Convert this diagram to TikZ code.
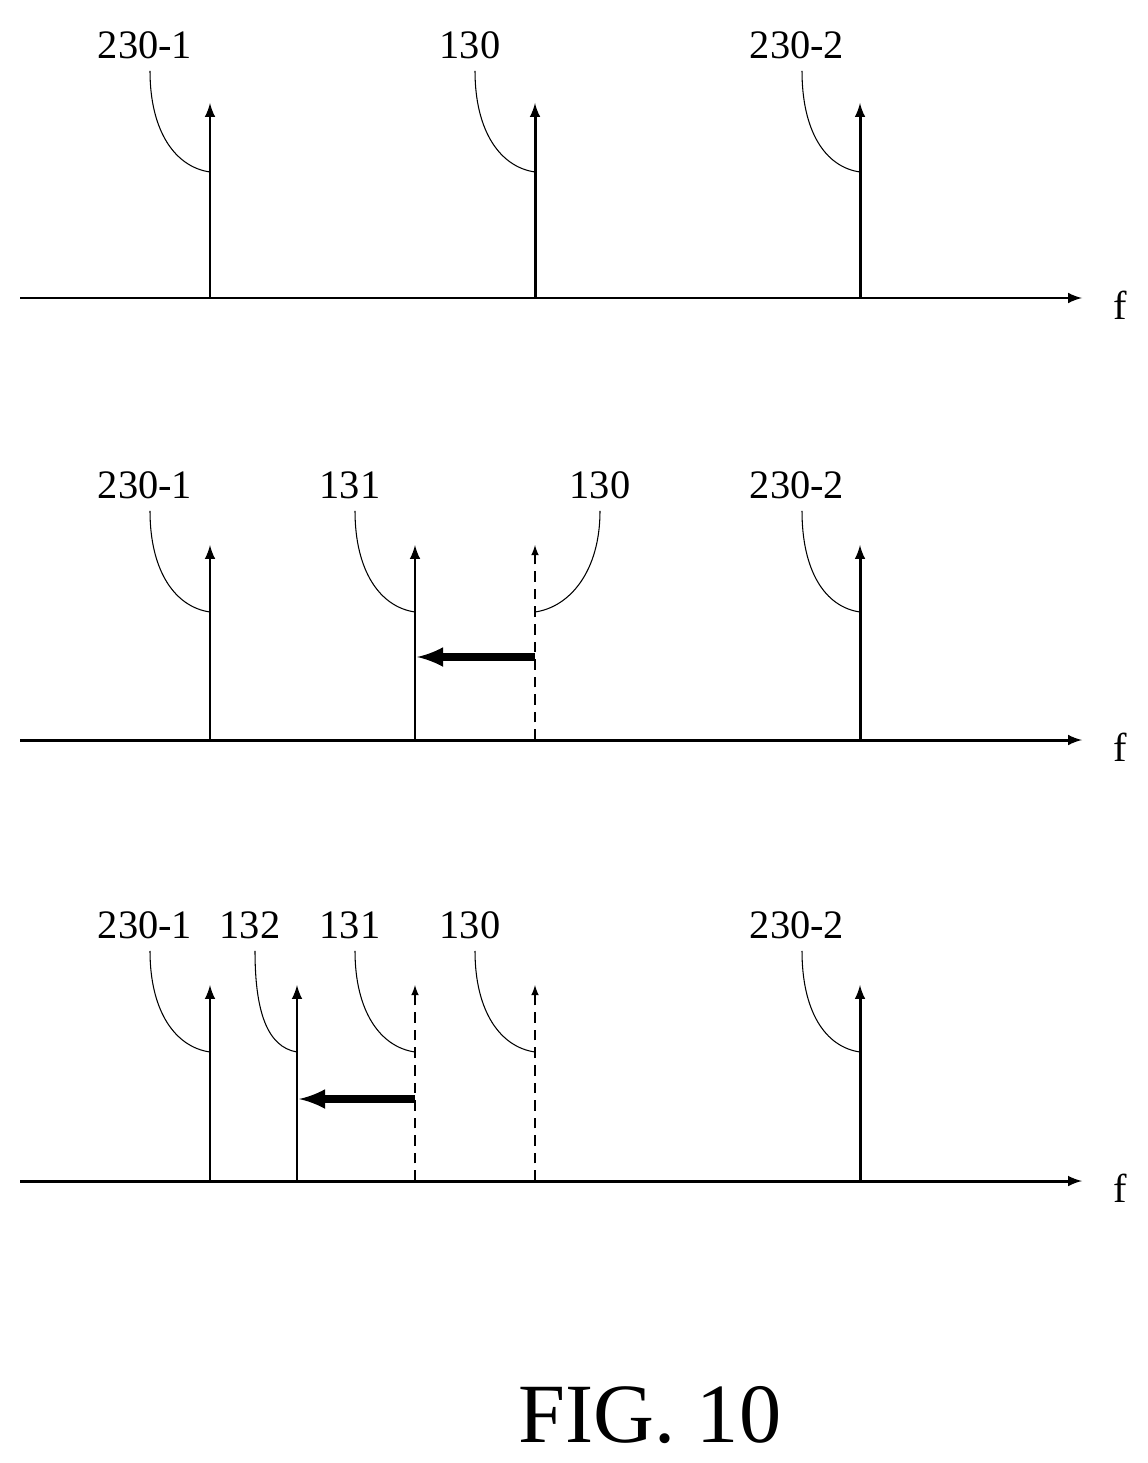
\documentclass[tikz,border=0pt]{standalone}
\usepackage{fontspec}
\setmainfont{Liberation Serif}
\usetikzlibrary{arrows,positioning}
\tikzstyle{axis}=[draw,line width=1.7pt,-latex]
\tikzstyle{spike}=[draw,line width=1.7pt,-latex]
\tikzstyle{ghost}=[spike,line width=1pt,dashed,dash pattern=on 6pt off 4pt]
\tikzstyle{moveby}=[draw,line width=4pt,-latex]
\tikzstyle{leader}=[draw,line width=0.6pt]
\tikzstyle{num}=[inner sep=0pt,font=\fontsize{23}{23}\selectfont]
\tikzstyle{flab}=[inner sep=0pt,font=\fontsize{23}{23}\selectfont]
\begin{document}
\begin{tikzpicture}[x=0.02cm,y=-0.02cm]
  \useasboundingbox (0,0) rectangle (1148,1463);

  % top row
  \coordinate (a1) at (20,298); \coordinate (a1e) at (1082,298);
  \draw[axis] (a1) -- (a1e);
  \node[flab] at (1120,305) (f1) {f};
  \coordinate (p11) at (210,298); \coordinate (p12) at (535,298); \coordinate (p13) at (860,298);
  \coordinate (t11) at (210,103); \coordinate (t12) at (535,103); \coordinate (t13) at (860,103);
  \draw[spike] (p11) -- (t11);
  \draw[spike] (p12) -- (t12);
  \draw[spike] (p13) -- (t13);
  \node[num] at (145,45) (l11) {230-1};
  \node[num] at (470,45) (l12) {130};
  \node[num] at (797,45) (l13) {230-2};
  \draw[leader] (l11.south) ++(5,12) .. controls +(0,60) and +(-35,-5) .. (210,172);
  \draw[leader] (l12.south) ++(5,12) .. controls +(0,60) and +(-35,-5) .. (535,172);
  \draw[leader] (l13.south) ++(5,12) .. controls +(0,60) and +(-35,-5) .. (860,172);

  % middle row
  \coordinate (a2) at (20,740); \coordinate (a2e) at (1082,740);
  \draw[axis] (a2) -- (a2e);
  \node[flab] at (1120,747) (f2) {f};
  \coordinate (p21) at (210,740); \coordinate (p22) at (415,740);
  \coordinate (p23) at (535,740); \coordinate (p24) at (860,740);
  \draw[spike] (p21) -- (210,545);
  \draw[spike] (p22) -- (415,545);
  \draw[ghost] (p23) -- (535,545);
  \draw[spike] (p24) -- (860,545);
  \coordinate (s2a) at (535,657); \coordinate (s2b) at (417,657);
  \draw[moveby] (s2a) -- (s2b);
  \node[num] at (145,485) (l21) {230-1};
  \node[num] at (350,485) (l22) {131};
  \node[num] at (600,485) (l23) {130};
  \node[num] at (797,485) (l24) {230-2};
  \draw[leader] (l21.south) ++(5,12) .. controls +(0,60) and +(-35,-5) .. (210,612);
  \draw[leader] (l22.south) ++(5,12) .. controls +(0,60) and +(-35,-5) .. (415,612);
  \draw[leader] (l23.south) ++(0,12) .. controls +(0,60) and +(35,-5) .. (535,612);
  \draw[leader] (l24.south) ++(5,12) .. controls +(0,60) and +(-35,-5) .. (860,612);

  % bottom row
  \coordinate (a3) at (20,1181); \coordinate (a3e) at (1082,1181);
  \draw[axis] (a3) -- (a3e);
  \node[flab] at (1120,1188) (f3) {f};
  \coordinate (p31) at (210,1181); \coordinate (p32) at (297,1181);
  \coordinate (p33) at (415,1181); \coordinate (p34) at (535,1181);
  \coordinate (p35) at (860,1181);
  \draw[spike] (p31) -- (210,985);
  \draw[spike] (p32) -- (297,985);
  \draw[ghost] (p33) -- (415,985);
  \draw[ghost] (p34) -- (535,985);
  \draw[spike] (p35) -- (860,985);
  \coordinate (s3a) at (415,1099); \coordinate (s3b) at (299,1099);
  \draw[moveby] (s3a) -- (s3b);
  \node[num] at (145,925) (l31) {230-1};
  \node[num] at (250,925) (l32) {132};
  \node[num] at (350,925) (l33) {131};
  \node[num] at (470,925) (l34) {130};
  \node[num] at (797,925) (l35) {230-2};
  \draw[leader] (l31.south) ++(5,12) .. controls +(0,60) and +(-35,-5) .. (210,1052);
  \draw[leader] (l32.south) ++(5,12) .. controls +(0,60) and +(-30,-5) .. (297,1052);
  \draw[leader] (l33.south) ++(5,12) .. controls +(0,60) and +(-35,-5) .. (415,1052);
  \draw[leader] (l34.south) ++(5,12) .. controls +(0,60) and +(-35,-5) .. (535,1052);
  \draw[leader] (l35.south) ++(5,12) .. controls +(0,60) and +(-35,-5) .. (860,1052);

  \node[inner sep=0pt,font=\fontsize{48}{48}\selectfont] at (650,1415) (fig) {FIG. 10};
\end{tikzpicture}
\end{document}
